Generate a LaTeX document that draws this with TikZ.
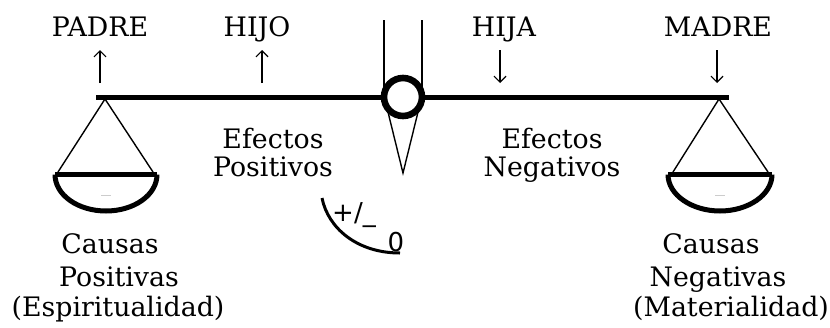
\documentclass[tikz,border=0pt]{standalone}
\usepackage{fontspec}
\setmainfont{DejaVu Serif}
\newfontfamily\symfont{DejaVu Sans}
\usetikzlibrary{arrows.meta}
\begin{document}
\begin{tikzpicture}[x=0.5pt,y=-0.5pt,
  lbl/.style={anchor=base,inner sep=0pt,font=\fontsize{13.4}{16}\selectfont},
  sym/.style={anchor=base,inner sep=0pt,font=\symfont\fontsize{13}{14}\selectfont},
  thinline/.style={line width=0.7pt},
  beamline/.style={line width=2.6pt},
  ring/.style={circle,draw,line width=3.3pt,fill=white,minimum size=19pt,inner sep=0pt,outer sep=0pt},
  bowl/.style={line width=2.5pt},
  marr/.style={line width=0.6pt,-{Straight Barb[length=3pt,width=6pt]}},
  dial/.style={line width=1.5pt},
]
\useasboundingbox (0,0) rectangle (830,327);
% hanging rod
\coordinate (r1t) at (384,20); \coordinate (r1b) at (384,97);
\coordinate (r2t) at (422,20); \coordinate (r2b) at (422,97);
\draw[thinline] (r1t) -- (r1b);
\draw[thinline] (r2t) -- (r2b);
% pointer
\coordinate (pl) at (387,108); \coordinate (pr) at (419,108); \coordinate (ptip) at (403,173);
\draw[thinline,line join=miter] (pl) -- (ptip) -- (pr);
% beam
\coordinate (bl) at (96,97.5); \coordinate (br) at (729,97.5);
\draw[beamline] (bl) -- (br);
% fulcrum ring
\node[ring] (ring) at (403,97) {};
% left pan
\coordinate (lp) at (105,99);
\coordinate (ll) at (58,172); \coordinate (lr) at (153,172);
\draw[thinline] (ll) -- (lp) -- (lr);
\coordinate (lbl) at (55,174.5); \coordinate (lbr) at (157,174.5);
\draw[beamline] (lbl) -- (lbr);
\draw[bowl] (lbl) .. controls (55,195) and (78,211) .. (106,211) .. controls (134,211) and (157,195) .. (lbr);
\draw[gray!40,line width=0.5pt] (101,195.5) -- (111,195.5);
% right pan
\coordinate (rp) at (719,99);
\coordinate (rl) at (673,172); \coordinate (rr) at (768,172);
\draw[thinline] (rl) -- (rp) -- (rr);
\coordinate (rbl) at (668,174.5); \coordinate (rbr) at (772,174.5);
\draw[beamline] (rbl) -- (rbr);
\draw[bowl] (rbl) .. controls (668,195) and (692,211) .. (720,211) .. controls (748,211) and (772,195) .. (rbr);
\draw[gray!40,line width=0.5pt] (715,195.5) -- (725,195.5);
% top labels
\node[lbl] (padre) at (100,36) {PADRE};
\node[lbl] (hijo) at (257,36) {HIJO};
\node[lbl] (hija) at (504,36) {HIJA};
\node[lbl] (madre) at (718,36) {MADRE};
\coordinate (a1b) at (100,83); \coordinate (a1t) at (100,50);
\coordinate (a2b) at (262,83); \coordinate (a2t) at (262,50);
\coordinate (a3t) at (500,50); \coordinate (a3b) at (500,83);
\coordinate (a4t) at (717,50); \coordinate (a4b) at (717,83);
\draw[marr] (a1b) -- (a1t);
\draw[marr] (a2b) -- (a2t);
\draw[marr] (a3t) -- (a3b);
\draw[marr] (a4t) -- (a4b);
% middle labels
\node[lbl] (ef1) at (273,148) {Efectos};
\node[lbl] (pos1) at (273,176) {Positivos};
\node[lbl] (ef2) at (552,148) {Efectos};
\node[lbl] (neg1) at (552,176) {Negativos};
% dial
\coordinate (d1) at (322,198); \coordinate (d2) at (400,253);
\draw[dial] (d1) .. controls (328,228) and (357,253) .. (d2);
\node[sym] (pm) at (354,221) {+/\_};
\node[sym] (zero) at (396,251) {0};
% bottom labels
\node[lbl] (c1) at (110,253) {Causas};
\node[lbl] (p2) at (119,286) {Positivas};
\node[lbl] (esp) at (118,316) {(Espiritualidad)};
\node[lbl] (c2) at (711,253) {Causas};
\node[lbl] (n2) at (718,286) {Negativas};
\node[lbl] (mat) at (731,316) {(Materialidad)};
\end{tikzpicture}
\end{document}
